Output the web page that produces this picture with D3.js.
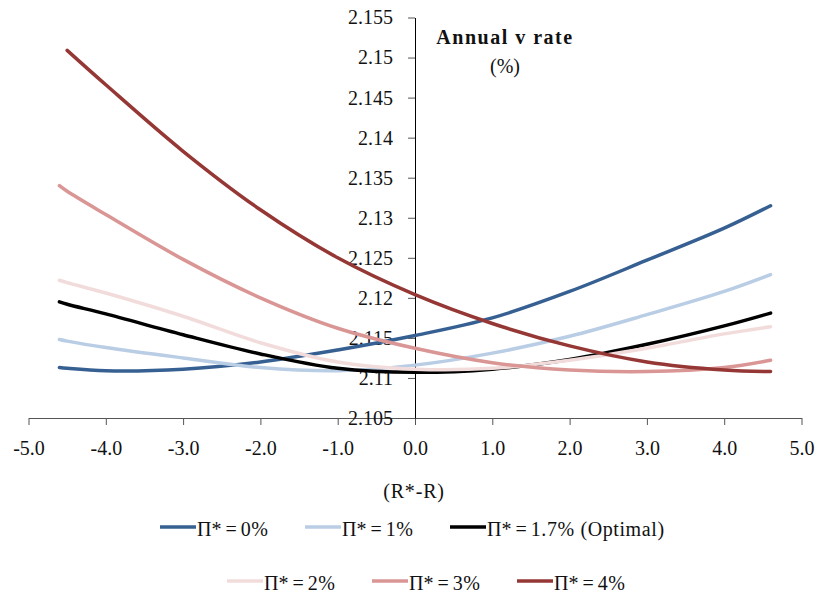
<!DOCTYPE html>
<html>
<head>
<meta charset="utf-8">
<script src="https://cdn.jsdelivr.net/npm/d3@7.9.0/dist/d3.min.js"></script>
<style>
  body { margin: 0; background: #fff; }
  svg text { font-family: "Liberation Serif", "DejaVu Serif", serif; fill: #111; }
  .axis text { font-size: 20px; }
</style>
</head>
<body>
<svg id="chart" width="817" height="596"></svg>
<script>
// gap (R*-R) on the x axis
const xs = [-4.6, -4.5, -4, -3, -2, -1, 0, 1, 2, 3, 4, 4.6];

// annual v rate (%) for each inflation target
const pi0  = [2.1113, 2.1112, 2.1109, 2.1111, 2.1120, 2.1135, 2.1153, 2.1175, 2.1208, 2.1247, 2.1287, 2.1315];
const pi1  = [2.1148, 2.1146, 2.1138, 2.1125, 2.1113, 2.1109, 2.1116, 2.1131, 2.1152, 2.1179, 2.1208, 2.1229];
const pi17 = [2.1195, 2.1192, 2.1180, 2.1154, 2.1130, 2.1112, 2.1107, 2.1111, 2.1123, 2.1142, 2.1165, 2.1181];
const pi2  = [2.1222, 2.1219, 2.1206, 2.1177, 2.1144, 2.1120, 2.1111, 2.1112, 2.1122, 2.1137, 2.1155, 2.1164];
const pi3  = [2.1340, 2.1333, 2.1304, 2.1248, 2.1200, 2.1162, 2.1137, 2.1119, 2.1110, 2.1108, 2.1113, 2.1122];
const pi4  = [null,   2.1509, 2.1466, 2.1383, 2.1310, 2.1250, 2.1204, 2.1168, 2.1140, 2.1120, 2.1110, 2.1108];

const seriesNames = ["0%", "1%", "1.7% (Optimal)", "2%", "3%", "4%"];
const seriesColors = ["#376092", "#b9cde5", "#000000", "#f2dcdb", "#d99694", "#953735"];
const seriesValues = [pi0, pi1, pi17, pi2, pi3, pi4];

const xTicks = d3.range(-5, 5.01, 1);
const yTicks = d3.range(0, 11).map(i => 2.105 + i * 0.005);

const svg = d3.select("#chart");

const x = d3.scaleLinear().domain([-5, 5]).range([28.5, 801.5]);
const y = d3.scaleLinear().domain([2.105, 2.155]).range([418, 17.5]);

// x axis along the bottom
const xAxis = svg.append("g")
  .attr("class", "axis")
  .attr("transform", `translate(0,${y(2.105)})`)
  .call(d3.axisBottom(x)
    .tickValues(xTicks)
    .tickFormat(d => d.toFixed(1))
    .tickSize(7)
    .tickSizeOuter(0)
    .tickPadding(16));
xAxis.select(".domain").attr("stroke", "#555");
xAxis.selectAll(".tick line").attr("stroke", "#555");

// y axis crossing at zero
const yAxis = svg.append("g")
  .attr("class", "axis")
  .attr("transform", `translate(${x(0)},0)`)
  .call(d3.axisLeft(y)
    .tickValues(yTicks)
    .tickFormat(d3.format(".3~f"))
    .tickSize(7)
    .tickSizeOuter(0)
    .tickPadding(15));
yAxis.select(".domain").attr("stroke", "#000");
yAxis.selectAll(".tick line").attr("stroke", "#555");

// curves
const line = d3.line()
  .defined(d => d[1] != null)
  .x(d => x(d[0]))
  .y(d => y(d[1]))
  .curve(d3.curveCatmullRom.alpha(0.5));

seriesValues.forEach((vals, i) => {
  svg.append("path")
    .datum(xs.map((xv, j) => [xv, vals[j]]))
    .attr("fill", "none")
    .attr("stroke", seriesColors[i])
    .attr("stroke-width", 3.5)
    .attr("stroke-linecap", "round")
    .attr("d", line);
});

// y title
svg.append("text")
  .attr("x", 505).attr("y", 44)
  .attr("text-anchor", "middle")
  .attr("font-size", 20)
  .attr("font-weight", "bold")
  .attr("letter-spacing", 1.5)
  .text("Annual v rate");
svg.append("text")
  .attr("x", 505).attr("y", 73)
  .attr("text-anchor", "middle")
  .attr("font-size", 20)
  .text("(%)");

// x title
svg.append("text")
  .attr("x", 414).attr("y", 498)
  .attr("text-anchor", "middle")
  .attr("font-size", 20)
  .attr("letter-spacing", 0.8)
  .text("(R*-R)");

// legend, two rows
const rowStart = [160, 227];
const rowBase = [536, 590];
seriesNames.forEach((name, i) => {
  const row = i < 3 ? 0 : 1;
  const col = i % 3;
  const x0 = rowStart[row] + col * 145;
  const g = svg.append("g");
  g.append("line")
    .attr("x1", x0).attr("x2", x0 + 36)
    .attr("y1", rowBase[row] - 9).attr("y2", rowBase[row] - 9)
    .attr("stroke", seriesColors[i])
    .attr("stroke-width", 3.5);
  const t = g.append("text")
    .attr("x", x0 + 37).attr("y", rowBase[row])
    .attr("font-size", 20);
  t.append("tspan").text("Π*");
  t.append("tspan").attr("dx", 4).text("=");
  t.append("tspan").attr("dx", 4).attr("letter-spacing", 0.6).text(name);
});
</script>
</body>
</html>
